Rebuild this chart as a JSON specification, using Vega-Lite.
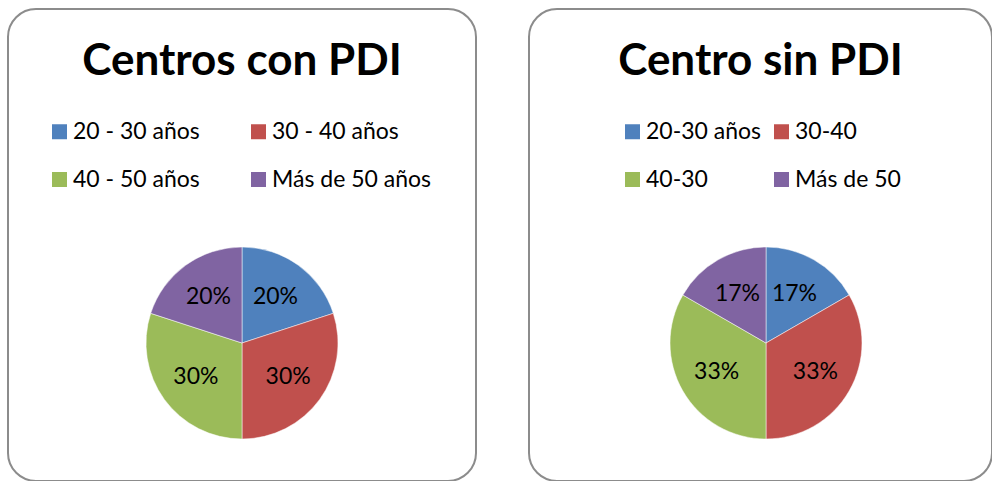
{
  "$schema": "https://vega.github.io/schema/vega-lite/v6.json",
  "background": "white",
  "padding": {"left": 7, "top": 8, "right": 0, "bottom": 0},
  "spacing": 51,
  "resolve": {"scale": {"color": "independent", "theta": "independent"}, "legend": {"color": "independent"}},
  "config": {
    "view": {"stroke": "#8c8c8c", "strokeWidth": 2, "cornerRadius": 28, "fill": "white"},
    "font": "Lato",
    "title": {"font": "Lato", "fontSize": 44, "fontWeight": "bold", "color": "black", "anchor": "middle", "frame": "group", "offset": -75},
    "legend": {
      "orient": "none", "columns": 2, "direction": "horizontal", "title": null,
      "symbolType": "square", "symbolSize": 225, "symbolStrokeWidth": 0,
      "labelFont": "Lato", "labelFontSize": 23, "labelColor": "black", "labelOffset": 2,
      "labelLimit": 400, "rowPadding": 24, "padding": 0
    }
  },
  "hconcat": [
    {
      "width": 468,
      "height": 472,
      "view": {"stroke": "#8c8c8c", "strokeWidth": 2, "cornerRadius": 28, "fill": "white"},
      "title": "Centros con PDI",
      "data": {"values": [
        {"grupo": "20 - 30 años", "share": 0.2},
        {"grupo": "30 - 40 años", "share": 0.3},
        {"grupo": "40 - 50 años", "share": 0.3},
        {"grupo": "Más de 50 años", "share": 0.2}
      ]},
      "encoding": {
        "theta": {"field": "share", "type": "quantitative", "stack": true},
        "order": {"field": "grupo", "type": "nominal", "sort": "ascending"}
      },
      "layer": [
        {
          "mark": {"type": "arc", "outerRadius": 96, "x": 234, "y": 334, "stroke": "white", "strokeWidth": 0.5},
          "encoding": {
            "color": {
              "field": "grupo", "type": "nominal",
              "scale": {"domain": ["20 - 30 años", "30 - 40 años", "40 - 50 años", "Más de 50 años"], "range": ["#4F81BD", "#C0504D", "#9BBB59", "#8064A2"]},
              "legend": {"legendX": 40, "legendY": 111, "columnPadding": 47}
            }
          }
        },
        {
          "mark": {"type": "text", "radius": 57, "x": 234, "y": 334, "font": "Lato", "fontSize": 23},
          "encoding": {
            "detail": {"field": "grupo", "type": "nominal"},
            "color": {"value": "black"},
            "text": {"field": "share", "type": "quantitative", "format": ".0%"}
          }
        }
      ]
    },
    {
      "width": 463,
      "height": 472,
      "view": {"stroke": "#8c8c8c", "strokeWidth": 2, "cornerRadius": 28, "fill": "white"},
      "title": "Centro sin PDI",
      "data": {"values": [
        {"grupo": "20-30 años", "share": 0.16667},
        {"grupo": "30-40", "share": 0.33333},
        {"grupo": "40-30", "share": 0.33333},
        {"grupo": "Más de 50", "share": 0.16667}
      ]},
      "encoding": {
        "theta": {"field": "share", "type": "quantitative", "stack": true},
        "order": {"field": "grupo", "type": "nominal", "sort": "ascending"}
      },
      "layer": [
        {
          "mark": {"type": "arc", "outerRadius": 96, "x": 237, "y": 334, "stroke": "white", "strokeWidth": 0.5},
          "encoding": {
            "color": {
              "field": "grupo", "type": "nominal",
              "scale": {"domain": ["20-30 años", "30-40", "40-30", "Más de 50"], "range": ["#4F81BD", "#C0504D", "#9BBB59", "#8064A2"]},
              "legend": {"legendX": 92, "legendY": 111, "columnPadding": 8}
            }
          }
        },
        {
          "mark": {"type": "text", "radius": 57, "x": 237, "y": 334, "font": "Lato", "fontSize": 23},
          "encoding": {
            "detail": {"field": "grupo", "type": "nominal"},
            "color": {"value": "black"},
            "text": {"field": "share", "type": "quantitative", "format": ".0%"}
          }
        }
      ]
    }
  ]
}
